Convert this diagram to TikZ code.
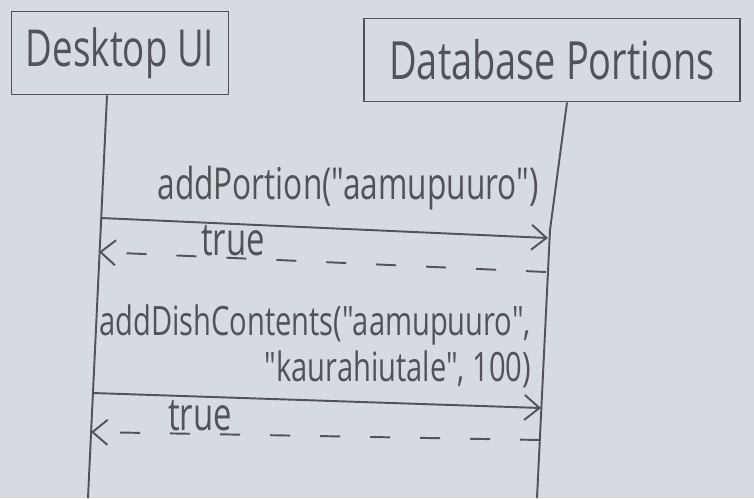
\documentclass[tikz,border=0pt]{standalone}
\usepackage{fontspec}
\setmainfont{Open Sans}[FakeStretch=0.72, Ligatures=TeXOff]
\usetikzlibrary{arrows.meta}
\definecolor{paper}{RGB}{214,219,225}
\definecolor{pencil}{RGB}{82,82,88}
\begin{document}
\begin{tikzpicture}[x=0.02cm, y=-0.02cm, line width=1.1pt, draw=pencil]
\tikzstyle{every node} = [text=pencil, inner sep=0pt]
\tikzstyle{actor} = [draw=pencil, line width=1.1pt, minimum height=1.66cm]
\tikzstyle{msg} = [draw=pencil, -{Straight Barb[length=3mm, width=5mm]}]
\tikzstyle{reply} = [msg, dash pattern=on 0.4cm off 0.6cm]
\useasboundingbox[fill=paper] (0,0) rectangle (754,498);
\node[actor, minimum width=4.34cm, font=\fontsize{29}{32}\selectfont] (ui) at (120,53) {Desktop UI};
\node[actor, minimum width=7.52cm, font=\fontsize{30}{32}\selectfont] (db) at (552,60) {Database Portions};
\coordinate (uiend) at (88,498);
\coordinate (dbbend) at (550,230);
\coordinate (dbend) at (537,498);
\draw ([xshift=-0.26cm]ui.south) -- (uiend);
\draw ([xshift=0.3cm]db.south) -- (dbbend) -- (dbend);
\coordinate (call1a) at (101,218);
\coordinate (call1b) at (548,238);
\coordinate (ret1a) at (546,272);
\coordinate (ret1b) at (99,252);
\coordinate (call2a) at (93,393);
\coordinate (call2b) at (541,408);
\coordinate (ret2a) at (540,440);
\coordinate (ret2b) at (91,432);
\draw[msg] (call1a) -- (call1b);
\draw[reply] (ret1a) -- (ret1b);
\draw[msg] (call2a) -- (call2b);
\draw[reply] (ret2a) -- (ret2b);
\node[font=\fontsize{25}{28}\selectfont] (lbl1) at (348,188) {addPortion("aamupuuro")};
\node[font=\fontsize{26}{28}\selectfont] (lbl2) at (233,241) {true};
\node[font=\fontsize{23}{26}\selectfont, align=right, anchor=east] (lbl3) at (532,346) {addDishContents("aamupuuro",\\"kaurahiutale", 100)};
\node[font=\fontsize{26}{28}\selectfont] (lbl4) at (200,416) {true};
\end{tikzpicture}
\end{document}
